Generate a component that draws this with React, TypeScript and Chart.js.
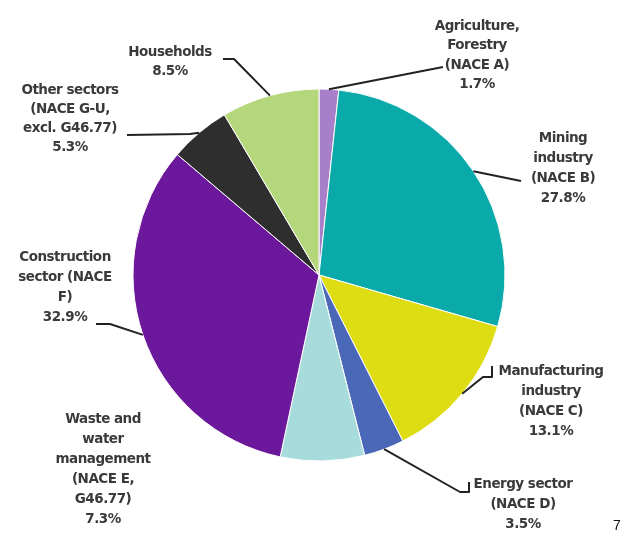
import React, { useEffect, useRef } from "react";
import { Chart, registerables } from "chart.js";

Chart.register(...registerables);

const categories: string[] = [
  "Agriculture, Forestry (NACE A)",
  "Mining industry (NACE B)",
  "Manufacturing industry (NACE C)",
  "Energy sector (NACE D)",
  "Waste and water management (NACE E, G46.77)",
  "Construction sector (NACE F)",
  "Other sectors (NACE G-U, excl. G46.77)",
  "Households",
];

const shares: number[] = [1.7, 27.8, 13.1, 3.5, 7.3, 32.9, 5.3, 8.5];

const labelLines: string[][] = [
  ["Agriculture,", "Forestry", "(NACE A)"],
  ["Mining", "industry", "(NACE B)"],
  ["Manufacturing", "industry", "(NACE C)"],
  ["Energy sector", "(NACE D)"],
  ["Waste and", "water", "management", "(NACE E,", "G46.77)"],
  ["Construction", "sector (NACE", "F)"],
  ["Other sectors", "(NACE G-U,", "excl. G46.77)"],
  ["Households"],
];

const sliceColors: string[] = [
  "#a87fc9",
  "#0aa9aa",
  "#dedc12",
  "#4b67b8",
  "#a8dcdc",
  "#6b189c",
  "#2e2e2e",
  "#b4d77c",
];

// Layout of the outside labels: text centre x, first line y, line height,
// and leader-line points (from the slice edge outward).
const labelLayout = [
  { x: 477, y: 26, lh: 19.5, leader: [[443, 67]] },
  { x: 563, y: 138, lh: 20, leader: [[521, 181]] },
  { x: 551, y: 371, lh: 20, leader: [[483, 377], [492, 377], [492, 366]] },
  { x: 523, y: 484, lh: 20, leader: [[460, 492], [469, 492], [469, 482]] },
  { x: 103, y: 419, lh: 20, leader: [] as number[][] },
  { x: 65, y: 257, lh: 20, leader: [[110, 324], [96, 324]] },
  { x: 70, y: 90, lh: 19, leader: [[190, 134], [127, 135]] },
  { x: 170, y: 52, lh: 19, leader: [[234, 59], [223, 59]] },
];

const labelPlugin = {
  id: "pieLabels",
  afterDraw(chart: any) {
    const ctx = chart.ctx as CanvasRenderingContext2D;
    const meta = chart.getDatasetMeta(0);
    ctx.save();
    meta.data.forEach((arc: any, i: number) => {
      const p = arc.getProps(["x", "y", "startAngle", "endAngle", "outerRadius"], true);
      const mid = (p.startAngle + p.endAngle) / 2;
      const ax = p.x + Math.cos(mid) * p.outerRadius;
      const ay = p.y + Math.sin(mid) * p.outerRadius;
      const lay = labelLayout[i];
      if (lay.leader.length) {
        ctx.beginPath();
        ctx.moveTo(ax, ay);
        lay.leader.forEach((pt) => ctx.lineTo(pt[0], pt[1]));
        ctx.strokeStyle = "#222";
        ctx.lineWidth = 2;
        ctx.lineJoin = "round";
        ctx.stroke();
      }
      const lines = [...labelLines[i], `${shares[i].toFixed(1)}%`];
      ctx.font = "bold 13.5px 'DejaVu Sans'";
      ctx.fillStyle = "#3a3a3a";
      ctx.textAlign = "center";
      ctx.textBaseline = "middle";
      (ctx as any).letterSpacing = "-0.5px";
      lines.forEach((t, k) => ctx.fillText(t, lay.x, lay.y + k * lay.lh));
    });
    (ctx as any).letterSpacing = "0px";
    ctx.font = "14px 'Liberation Sans'";
    ctx.fillStyle = "#111";
    ctx.textAlign = "center";
    ctx.textBaseline = "middle";
    ctx.fillText("7", 617, 526);
    ctx.restore();
  },
};

export default function App() {
  const ref = useRef<HTMLCanvasElement | null>(null);
  useEffect(() => {
    if (!ref.current) return;
    const chart = new Chart(ref.current, {
      type: "pie",
      data: {
        labels: categories,
        datasets: [
          {
            data: shares,
            backgroundColor: sliceColors,
            borderColor: "#ffffff",
            borderWidth: 1,
          },
        ],
      },
      options: {
        responsive: false,
        animation: false,
        radius: 186,
        layout: { padding: { left: 11, top: 16, right: 0, bottom: 0 } },
        plugins: { legend: { display: false }, tooltip: { enabled: false } },
      } as any,
      plugins: [labelPlugin],
    });
    return () => chart.destroy();
  }, []);
  return (
    <div style={{ position: "absolute", left: 0, top: 0, width: 627, height: 534, background: "#fff" }}>
      <canvas ref={ref} width={627} height={534} />
    </div>
  );
}
